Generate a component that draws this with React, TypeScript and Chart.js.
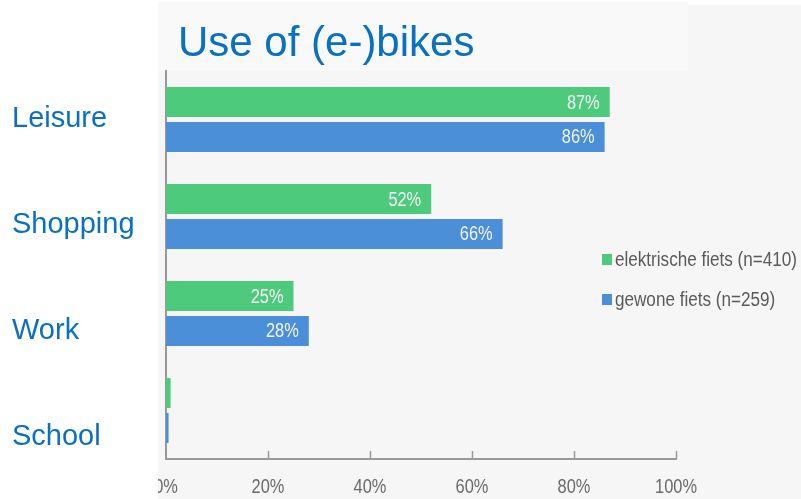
import { useEffect, useRef } from "react";
import { Chart, registerables } from "chart.js";

Chart.register(...registerables);

const title = "Use of (e-)bikes";
const categories = ["Leisure", "Shopping", "Work", "School"];
const seriesLabels = ["elektrische fiets (n=410)", "gewone fiets (n=259)"];
const electricValues = [87, 52, 25, 0.9];
const regularValues = [86, 66, 28, 0.5];
const xTicks = [0, 20, 40, 60, 80, 100];

const GREEN = "#4dca7b";
const BLUE = "#4a8fd8";
const TITLE_BLUE = "#0a70c2";
const SANS = '"Liberation Sans", Arial, sans-serif';

// draw text horizontally condensed (Arial Narrow look-alike)
function narrowText(ctx: any, text: string, x: number, y: number, size: number, align: string, squeeze: number) {
  ctx.save();
  ctx.font = `${size}px ${SANS}`;
  ctx.textBaseline = "middle";
  ctx.textAlign = align;
  ctx.translate(x, y);
  ctx.scale(squeeze, 1);
  ctx.fillText(text, 0, 0);
  ctx.restore();
}

const decor = {
  id: "decor",
  beforeDraw(chart: any) {
    const ctx = chart.ctx;
    const W = chart.width;
    const H = chart.height;
    ctx.save();
    ctx.fillStyle = "#ffffff";
    ctx.fillRect(0, 0, W, H);
    ctx.fillStyle = "#f6f6f6";
    ctx.fillRect(158, 71, W - 158, H - 71);
    ctx.fillRect(688, 5, W - 688, 66);
    ctx.fillStyle = "#f9f9f9";
    ctx.fillRect(158, 2, 530, 69);
    ctx.fillStyle = TITLE_BLUE;
    ctx.font = `42px ${SANS}`;
    ctx.textBaseline = "alphabetic";
    ctx.textAlign = "left";
    ctx.fillText(title, 178, 56);
    ctx.restore();
  },
  afterDatasetsDraw(chart: any) {
    const ctx = chart.ctx;
    ctx.save();
    ctx.fillStyle = "#f4f4f4";
    chart.data.datasets.forEach((ds: any, di: number) => {
      const meta = chart.getDatasetMeta(di);
      meta.data.forEach((el: any, i: number) => {
        const v = ds.data[i];
        if (v >= 5) {
          narrowText(ctx, `${Math.round(v)}%`, el.x - 10, el.y + 1, 20, "right", 0.82);
        }
      });
    });
    ctx.restore();
  },
  afterDraw(chart: any) {
    const ctx = chart.ctx;
    const area = chart.chartArea;
    const xs = chart.scales.x;
    ctx.save();
    // inward tick marks
    ctx.strokeStyle = "#999999";
    ctx.lineWidth = 1.5;
    xs.ticks.forEach((t: any) => {
      if (t.value === 0) return;
      const px = Math.round(xs.getPixelForValue(t.value)) + 0.5;
      ctx.beginPath();
      ctx.moveTo(px, area.bottom);
      ctx.lineTo(px, area.bottom - 8);
      ctx.stroke();
    });
    // tick labels
    ctx.fillStyle = "#6a6a6a";
    xs.ticks.forEach((t: any) => {
      const px = xs.getPixelForValue(t.value);
      narrowText(ctx, `${t.value}%`, px, area.bottom + 28, 20, "center", 0.82);
    });
    // white left margin (clips the 0% label)
    ctx.fillStyle = "#ffffff";
    ctx.fillRect(0, area.bottom + 3, 158, chart.height - area.bottom);
    // category labels
    ctx.fillStyle = TITLE_BLUE;
    ctx.font = `29px ${SANS}`;
    ctx.textAlign = "left";
    ctx.textBaseline = "alphabetic";
    categories.forEach((c, i) => {
      ctx.fillText(c, 12, 127 + i * 106);
    });
    // legend
    chart.data.datasets.forEach((ds: any, i: number) => {
      const cy = 260 + i * 40;
      ctx.fillStyle = ds.backgroundColor;
      ctx.fillRect(602, cy - 6, 10, 11);
      ctx.fillStyle = "#5a5a5a";
      narrowText(ctx, ds.label, 615, cy, 20, "left", 0.855);
    });
    ctx.restore();
  },
};

export default function App() {
  const ref = useRef<HTMLCanvasElement | null>(null);
  useEffect(() => {
    document.body.style.margin = "0";
    document.body.style.overflow = "hidden";
    const chart = new Chart(ref.current as HTMLCanvasElement, {
      type: "bar",
      data: {
        labels: categories,
        datasets: [
          { label: seriesLabels[0], data: electricValues, backgroundColor: GREEN, borderWidth: 0 },
          { label: seriesLabels[1], data: regularValues, backgroundColor: BLUE, borderWidth: 0 },
        ],
      },
      options: {
        indexAxis: "y",
        responsive: false,
        animation: false,
        events: [],
        layout: { padding: { left: 166, right: 125, top: 71, bottom: 0 } },
        datasets: { bar: { categoryPercentage: 0.72, barPercentage: 0.857 } },
        plugins: { legend: { display: false }, tooltip: { enabled: false }, title: { display: false } },
        scales: {
          x: {
            min: 0,
            max: 100,
            afterBuildTicks: (scale: any) => {
              scale.ticks = xTicks.map((v) => ({ value: v }));
            },
            afterFit: (scale: any) => {
              scale.height = 40;
            },
            grid: { display: false, drawTicks: false },
            border: { display: true, color: "#999999", width: 2 },
            ticks: { display: false },
          },
          y: {
            afterFit: (scale: any) => {
              scale.width = 0;
            },
            grid: { display: false, drawTicks: false },
            border: { display: true, color: "#999999", width: 2 },
            ticks: { display: false },
          },
        },
      },
      plugins: [decor],
    });
    return () => chart.destroy();
  }, []);
  return (
    <div style={{ width: 801, height: 499 }}>
      <canvas ref={ref} width={801} height={499} />
    </div>
  );
}
